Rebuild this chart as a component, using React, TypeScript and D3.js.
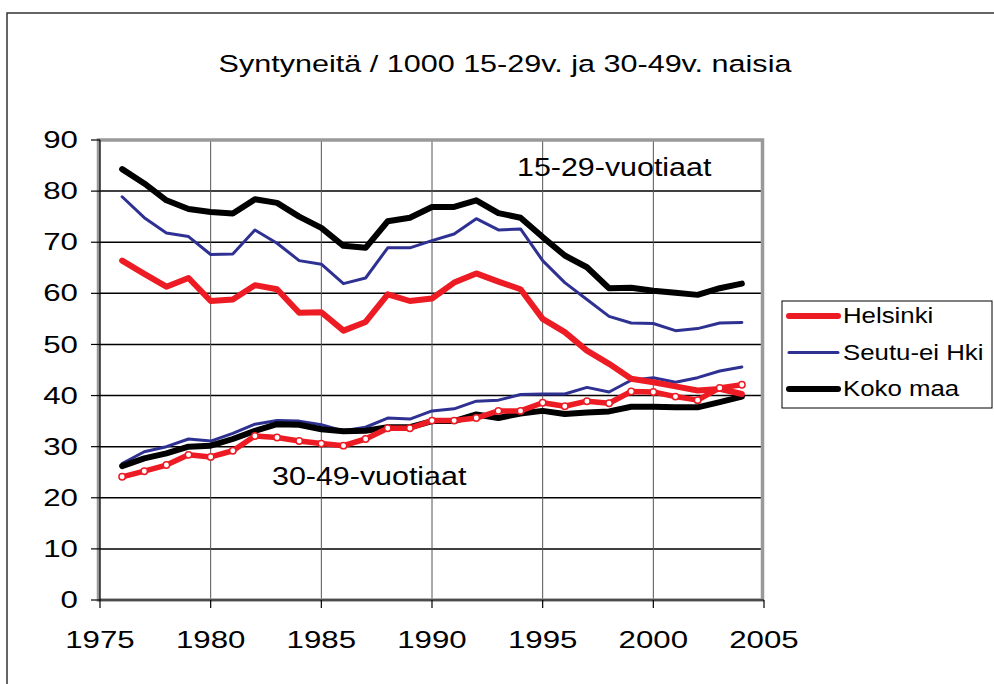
import React, { useEffect, useRef } from "react";
import { select, scaleLinear, line } from "d3";

const years = [1976, 1977, 1978, 1979, 1980, 1981, 1982, 1983, 1984, 1985, 1986, 1987, 1988, 1989, 1990, 1991, 1992, 1993, 1994, 1995, 1996, 1997, 1998, 1999, 2000, 2001, 2002, 2003, 2004];

// 15-29 v.
const hki1529 = [66.4, 63.8, 61.3, 63.0, 58.5, 58.8, 61.6, 60.8, 56.2, 56.3, 52.7, 54.4, 59.8, 58.5, 59.0, 62.1, 63.9, 62.3, 60.8, 55.0, 52.4, 48.8, 46.2, 43.3, 42.6, 41.8, 41.0, 41.3, 40.3];
const seutu1529 = [78.9, 74.8, 71.8, 71.1, 67.6, 67.7, 72.4, 69.8, 66.4, 65.7, 61.9, 63.0, 68.9, 68.9, 70.3, 71.6, 74.6, 72.4, 72.6, 66.4, 62.1, 58.8, 55.5, 54.2, 54.1, 52.7, 53.1, 54.2, 54.3];
const koko1529 = [84.3, 81.5, 78.2, 76.5, 75.9, 75.6, 78.4, 77.7, 75.0, 72.8, 69.3, 68.9, 74.1, 74.8, 76.9, 76.9, 78.2, 75.7, 74.8, 71.0, 67.4, 65.1, 61.0, 61.1, 60.5, 60.1, 59.7, 61.0, 61.9];

// 30-49 v.
const hki3049 = [24.1, 25.2, 26.4, 28.4, 28.0, 29.2, 32.1, 31.8, 31.1, 30.6, 30.2, 31.5, 33.6, 33.6, 35.1, 35.1, 35.6, 37.0, 37.0, 38.6, 37.9, 38.9, 38.5, 40.8, 40.7, 39.8, 39.1, 41.5, 42.1];
const seutu3049 = [26.7, 29.0, 30.0, 31.5, 31.1, 32.6, 34.4, 35.1, 35.0, 34.3, 33.1, 33.8, 35.6, 35.4, 37.0, 37.4, 38.9, 39.1, 40.2, 40.3, 40.3, 41.6, 40.7, 43.0, 43.5, 42.6, 43.5, 44.8, 45.6];
const koko3049 = [26.2, 27.7, 28.7, 30.0, 30.2, 31.5, 33.1, 34.4, 34.3, 33.4, 33.0, 33.1, 33.8, 33.8, 35.0, 35.0, 36.3, 35.6, 36.5, 37.0, 36.4, 36.7, 36.9, 37.8, 37.8, 37.7, 37.7, 38.7, 39.8];

const xTicks = [1975, 1980, 1985, 1990, 1995, 2000, 2005];
const yTicks = [0, 10, 20, 30, 40, 50, 60, 70, 80, 90];

const legendItems = [
  { name: "Helsinki", color: "#ED1C24", width: 6 },
  { name: "Seutu-ei Hki", color: "#2E3192", width: 3 },
  { name: "Koko maa", color: "#000000", width: 6 },
];

const RED = "#ED1C24";
const BLUE = "#2E3192";
const FONT = "'Liberation Sans', Arial, sans-serif";

function App() {
  const svgRef = useRef<SVGSVGElement>(null);

  useEffect(() => {
    const svg = select(svgRef.current);
    svg.selectAll("*").remove();

    const xScale = scaleLinear().domain([1975, 2005]).range([100, 764]);
    const yScale = scaleLinear().domain([0, 90]).range([600, 140]);

    // stretched text helper (the original is horizontally widened)
    const txt = (x: number, y: number, s: string, size: number, sx: number, anchor = "start") =>
      svg
        .append("text")
        .attr("transform", `translate(${x},${y}) scale(${sx},1)`)
        .attr("text-anchor", anchor)
        .attr("dominant-baseline", "central")
        .attr("font-family", FONT)
        .attr("font-size", size)
        .attr("fill", "#000")
        .text(s);

    // outer frame
    svg.append("rect").attr("x", 7).attr("y", 13).attr("width", 1000).attr("height", 700)
      .attr("fill", "#fff").attr("stroke", "#333").attr("stroke-width", 1.5);

    txt(505, 64, "Syntyneitä / 1000 15-29v. ja 30-49v. naisia", 23.5, 1.3, "middle");

    const chart = svg.append("g");

    // gridlines
    chart.selectAll(".hgrid").data(yTicks.filter((d) => d > 0 && d < 90)).join("line")
      .attr("x1", xScale(1975)).attr("x2", xScale(2005))
      .attr("y1", (d) => yScale(d)).attr("y2", (d) => yScale(d))
      .attr("stroke", "#000").attr("stroke-width", 1.5);
    chart.selectAll(".vgrid").data(xTicks.filter((d) => d > 1975 && d < 2005)).join("line")
      .attr("x1", (d) => xScale(d)).attr("x2", (d) => xScale(d))
      .attr("y1", yScale(90)).attr("y2", yScale(0))
      .attr("stroke", "#555").attr("stroke-width", 1);

    // plot area border
    chart.append("rect")
      .attr("x", xScale(1975) - 1.5).attr("y", yScale(90))
      .attr("width", xScale(2005) - xScale(1975)).attr("height", yScale(0) - yScale(90))
      .attr("fill", "none").attr("stroke", "#999").attr("stroke-width", 3.5);
    chart.append("line").attr("x1", xScale(1975)).attr("x2", xScale(1975))
      .attr("y1", yScale(90)).attr("y2", yScale(0)).attr("stroke", "#000").attr("stroke-width", 1.2);
    chart.append("line").attr("x1", xScale(1975)).attr("x2", xScale(2005))
      .attr("y1", yScale(0)).attr("y2", yScale(0)).attr("stroke", "#000").attr("stroke-width", 1.2);

    // ticks
    chart.selectAll(".ytick").data(yTicks).join("line")
      .attr("x1", xScale(1975) - 9).attr("x2", xScale(1975))
      .attr("y1", (d) => yScale(d)).attr("y2", (d) => yScale(d))
      .attr("stroke", "#000").attr("stroke-width", 1.2);
    chart.selectAll(".xtick").data(xTicks).join("line")
      .attr("x1", (d) => xScale(d)).attr("x2", (d) => xScale(d))
      .attr("y1", yScale(0)).attr("y2", yScale(0) + 8)
      .attr("stroke", "#000").attr("stroke-width", 1.2);

    yTicks.forEach((d) => txt(78, yScale(d), String(d), 23.5, 1.33, "end"));
    xTicks.forEach((d) => txt(xScale(d), 640, String(d), 23.5, 1.33, "middle"));

    // series
    const path = (vals: number[]) =>
      line<number>().x((_, i) => xScale(years[i])).y((d) => yScale(d))(vals);

    const draw = (vals: number[], color: string, w: number) =>
      chart.append("path").attr("d", path(vals)).attr("fill", "none")
        .attr("stroke", color).attr("stroke-width", w)
        .attr("stroke-linejoin", "round").attr("stroke-linecap", "round");

    draw(seutu1529, BLUE, 3);
    draw(seutu3049, BLUE, 3);
    draw(koko1529, "#000", 6);
    draw(koko3049, "#000", 6);
    draw(hki1529, RED, 6);
    draw(hki3049, RED, 5.5);

    chart.selectAll(".marker").data(hki3049).join("circle")
      .attr("cx", (_, i) => xScale(years[i])).attr("cy", (d) => yScale(d))
      .attr("r", 3.2).attr("fill", "#fff").attr("stroke", RED).attr("stroke-width", 1.5);

    // annotations
    txt(517, 167, "15-29-vuotiaat", 26, 1.17);
    txt(272, 476, "30-49-vuotiaat", 26, 1.17);

    // legend
    svg.append("rect").attr("x", 782).attr("y", 301).attr("width", 210).attr("height", 107)
      .attr("fill", "#fff").attr("stroke", "#000").attr("stroke-width", 1);
    legendItems.forEach((it, i) => {
      const y = 316 + i * 36.5;
      svg.append("line").attr("x1", 789).attr("x2", 838).attr("y1", y).attr("y2", y)
        .attr("stroke", it.color).attr("stroke-width", it.width).attr("stroke-linecap", "round");
      txt(843, y, it.name, 21.5, 1.2);
    });
  }, []);

  return (
    <svg ref={svgRef} width={994} height={684}
      style={{ position: "absolute", left: 0, top: 0, background: "#fff" }} />
  );
}

export default App;
